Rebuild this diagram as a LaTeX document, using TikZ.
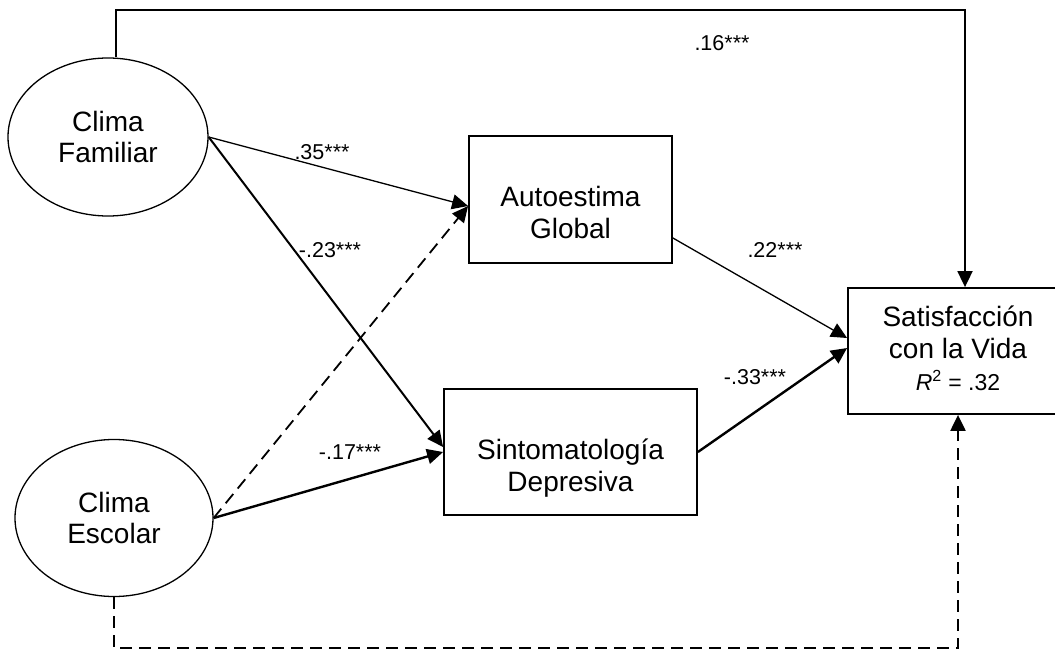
\documentclass[tikz,border=0pt]{standalone}
\usepackage{fontspec}
\setmainfont{Liberation Sans}
\usetikzlibrary{arrows.meta,shapes.geometric}
\tikzset{
  ovalnode/.style={ellipse, draw, line width=1.3pt, inner sep=0pt, minimum width=200pt, minimum height=158pt, align=center, font=\fontsize{28}{31}\selectfont},
  boxnode/.style={rectangle, draw, line width=1.8pt, inner sep=0pt, minimum height=126pt, align=center, font=\fontsize{28}{32}\selectfont},
  txtnode/.style={inner sep=0pt, align=center, font=\fontsize{28}{32}\selectfont},
  lbl/.style={inner sep=0pt, font=\fontsize{21.5}{24}\selectfont},
  tip/.style={-{Triangle[length=16pt,width=15pt]}},
  dashline/.style={dash pattern=on 12pt off 7pt},
}
\begin{document}
\begin{tikzpicture}[x=1pt,y=-1pt]
\useasboundingbox (0,0) rectangle (1055,650);
% nodes
\node[ovalnode] (fam) at (108,137) {Clima\\Familiar};
\node[ovalnode, minimum width=198pt, minimum height=157pt] (esc) at (114,518) {Clima\\Escolar};
\node[boxnode, minimum width=203pt, minimum height=127pt] (auto) at (570.5,199.5) {\raisebox{-23pt}[0pt][0pt]{\begin{tabular}{@{}c@{}}Autoestima\\Global\end{tabular}}};
\node[boxnode, minimum width=253pt] (sint) at (570.5,452) {\raisebox{-23pt}[0pt][0pt]{\begin{tabular}{@{}c@{}}Sintomatología\\Depresiva\end{tabular}}};
\node[boxnode, minimum width=300pt] (sat) at (998,351) {};
\node[txtnode] (sattext) at (958,348) {Satisfacción\\con la Vida\\{\fontsize{23}{32}\selectfont\textit{R}\textsuperscript{2} = .32}};
% helper coordinates
\coordinate (topc) at (965,10);
\coordinate (botc) at (958,648);
% connectors
\draw[tip, line width=1.3pt] (fam.east) -- ([yshift=-6.5pt]auto.west);
\draw[tip, line width=2pt] (fam.east) -- ([yshift=5pt]sint.west);
\draw[tip, line width=1.8pt, dashline] (esc.east) -- ([yshift=-6.5pt]auto.west);
\draw[tip, line width=2.4pt] (esc.east) -- (sint.west);
\draw[tip, line width=1.3pt] ([yshift=-38.5pt]auto.east) -- ([yshift=13pt]sat.west);
\draw[tip, line width=2.4pt] (sint.east) -- ([yshift=3pt]sat.west);
\draw[tip, line width=1.8pt] ([xshift=8pt]fam.north) |- (topc) -- ([xshift=-33pt]sat.north);
\draw[tip, line width=2.2pt, dashline] (esc.south) |- (botc) -- ([xshift=-40pt]sat.south);
% labels
\node[lbl] (l16) at (722,43) {.16***};
\node[lbl] (l35) at (322,152) {.35***};
\node[lbl] (l23) at (330,250) {-.23***};
\node[lbl] (l22) at (775,250) {.22***};
\node[lbl] (l33) at (755,377) {-.33***};
\node[lbl] (l17) at (350,452) {-.17***};
\end{tikzpicture}
\end{document}
